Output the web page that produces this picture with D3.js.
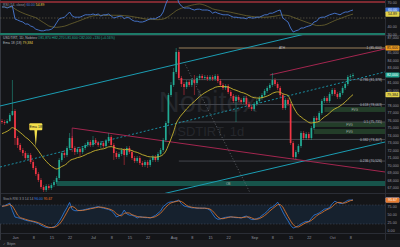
<!DOCTYPE html>
<html>
<head>
<meta charset="utf-8">
<script src="https://cdnjs.cloudflare.com/ajax/libs/d3/7.8.5/d3.min.js"></script>
<style>
  body { margin: 0; background: #141518; }
  svg { display: block; font-family: "Liberation Sans", Arial, sans-serif; }
</style>
</head>
<body>
<div id="chart"></div>
<script>

// Daily USDT/TIRT candles, 27 May - 9 Oct (one value per day)

var firstOpen = 75870;

var close = [75730,75600,75870,76670,77200,73600,72670,72000,71600,70930,
  71330,70400,69600,68800,68000,67070,66670,67200,66930,67330,
  67730,68270,70670,71600,71330,72270,73600,72270,71730,72130,
  71730,72270,72670,73070,72670,73330,72930,72670,72930,72530,
  73200,73730,72670,71600,71070,71470,72000,71330,72270,71730,
  70930,70530,70930,70270,70000,70400,70000,70670,71070,70670,
  71470,72000,73330,75600,79330,80670,82400,85070,81600,80800,
  80400,81070,80670,81330,80930,81600,81870,81600,81730,81470,
  81730,81470,81870,81200,80670,80270,80530,79730,79200,78530,
  79070,78670,78400,78930,78130,77730,77470,78130,78530,78930,
  79330,79870,80270,80670,81330,80800,80270,79330,77600,78670,
  78130,72930,71070,71730,72530,74270,73600,74130,73600,74930,
  76270,76000,76930,78530,78930,78530,79470,80000,79470,79070,
  79600,80270,80800,81730,81870,82000];

var high = [76130,76000,76130,76930,81330,77470,73870,72930,72270,71870,
  71600,71600,70670,69870,69070,68270,67330,67470,67470,67600,
  68000,68530,70930,71870,72000,72530,74270,73870,72530,72400,
  72400,72530,72930,73330,73330,73870,73600,73200,73200,73200,
  73470,74270,74000,72930,71870,71730,72270,72270,72530,72530,
  72000,71200,71200,71200,70530,70670,70670,70930,71330,71330,
  71730,72270,73600,75870,79600,81070,82930,85600,85330,81870,
  81070,81330,81330,81600,82000,81870,82130,82130,82000,82000,
  82000,82000,82130,82130,81470,80930,80800,80800,80000,79470,
  79330,79330,78930,79200,79200,78400,78000,78400,78800,79200,
  79600,80130,80530,80930,82270,81600,81070,80530,79600,78930,
  78930,78400,73200,72000,72800,74530,74530,74400,74400,75200,
  76530,76530,77200,78800,79200,79200,79730,80270,80270,79730,
  79870,80530,81070,82000,82130,82270];

var low = [75470,75330,75470,75730,76530,72670,72270,71730,71200,70670,
  70670,70130,69330,68530,67730,66800,66400,66400,66670,66670,
  67070,67470,68000,70400,70930,71070,72000,71730,71330,71470,
  71200,71470,72000,72400,72400,72400,72670,72400,72270,72270,
  72270,72930,72400,70670,70800,70800,71200,70000,71070,71470,
  70670,70270,70270,70000,69730,69730,69600,69730,70400,70400,
  70400,71200,71730,73070,75330,79070,80400,82130,81330,80400,
  79330,80130,80400,80400,79330,80670,81330,81330,81330,81200,
  81200,81200,81200,80930,80400,80000,80000,79470,78930,78270,
  75730,78400,78130,78130,77870,77470,77200,77200,77870,78270,
  78670,79070,79600,80000,80400,80530,80000,79070,77330,77330,
  77870,72670,70800,70800,71470,72270,73330,73330,73330,73330,
  74670,75730,75730,76670,78270,78270,78270,79200,79200,78800,
  78800,79330,80000,80530,81470,81600];

// RSI (14)
var rsi = [63.8,63.8,62.5,64,65,48.8,47.5,46,45,42.5,
  42.5,40,38.8,36,35,34,34,35,35,36,
  38.8,44,49,50,51,54,57.5,52.5,51,51,
  51,52.5,54,54,54,55,54,55,52.5,54,
  54,55,52.5,50,51,52,52.5,49,51,50,
  47.5,46,46,45,45,46,47.5,49,49,49,
  51,52.5,57.5,67.5,75,79,80,80,69,65,
  62.5,62.5,62.5,61,60,61,61,60,60,60,
  59,56,57.5,56,55,54,54,54,52.5,51,
  51,50.5,50,50,49,51,50,50,51,51,
  52.5,54,54,56,56,57.5,59,60,50,47.5,
  45,37.5,32.5,34,35,37.5,37.5,39,40,41,
  45,46,50,51,51,52.5,54,55,56,55,
  54,56,57.5,57.5,59,60];

// Stoch RSI %K
var stochK = [76,78,82,86,62,42,40,38,35,32,
  30,29,27,24,21,16,12,9,8,9,
  11,17,28,42,58,72,88,66,62,62,
  63,64,66,68,70,71,73,75,72,70,
  68,66,62,54,42,46,50,64,52,48,
  48,44,39,43,42,40,40,39,43,47,
  54,61,75,82,88,90,90,93,96,84,
  77,75,73,71,71,70,70,70,70,68,
  64,52,40,35,36,39,41,42,43,41,
  40,40,39,43,45,39,34,34,37,40,
  47,53,60,70,74,80,89,75,58,43,
  30,16,7,10,15,20,25,28,28,38,
  48,51,55,61,67,68,72,84,92,88,
  85,85,90,95,96,96];

var emaPeriod = 18, emaSeed = 74000;
var rsiMaPeriod = 14, stochDPeriod = 3;

// Fibonacci retracement drawn from the swing high
var fibHigh = 85600, fibLow = 65870, fibStart = "2025-08-03";
var fibRatios = [1, 0.786, 0.618, 0.5, 0.382, 0.236];

// Zones: start date, top price, bottom price, text
var zones = [
  ["2025-06-17", 67870, 67200, "OB"],
  ["2025-09-28", 77730, 77070, "FVG"],
  ["2025-09-24", 75730, 75070, "FVG"],
  ["2025-09-24", 74800, 74130, "FVG"]
];

// Trend lines: two anchors [date, price]
var trendLines = [
  { name: "channelTop", from: ["2025-05-27", 77930], to: ["2025-09-04", 86110] },
  { name: "channelMid", from: ["2025-05-27", 69800], to: ["2025-09-04", 78360] },
  { name: "channelLow", from: ["2025-07-26", 66000], to: ["2025-10-09", 72070] },
  { name: "wedgeLow",   from: ["2025-06-23", 74930], to: ["2025-10-09", 69670] },
  { name: "wedgeHigh",  from: ["2025-09-07", 82000], to: ["2025-10-09", 84510] },
  { name: "drop",       from: ["2025-08-05", 83730], to: ["2025-08-30", 66570] }
];

var priceTicks = [67000,68000,69000,70000,71000,72000,73000,74000,75000,76000,
  77000,78000,79000,80000,81000,82000,83000,84000,85000,86000,87000];
var rsiTicks = [70, 60, 50, 40, 30];
var stochTicks = [75, 50, 25, 0];
var dayTicks = [1, 8, 15, 22];

// ---------------------------------------------------------------

var W = 400, H = 247, plotR = 385;
var pane = { rsi: [0, 35], main: [35, 193], stoch: [193, 233] };

var upColor = "#22ab94", downColor = "#f23645", textColor = "#9598a1";

var parse = d3.utcParse("%Y-%m-%d");
var dates = d3.utcDay.range(parse("2025-05-27"), d3.utcDay.offset(parse("2025-10-09"), 1));
var open = [firstOpen].concat(close.slice(0, -1)); // 24/7 market: open = prior close

var candles = dates.map(function(d, i) {
  return { date: d, o: open[i], h: high[i], l: low[i], c: close[i] };
});

// indicators derived from the series
var ema = [], e = emaSeed, k = 2 / (emaPeriod + 1);
close.forEach(function(c) { e = e + k * (c - e); ema.push(e); });

function sma(arr, n) {
  return arr.map(function(v, i) {
    var s = arr.slice(Math.max(0, i - n + 1), i + 1);
    return d3.mean(s);
  });
}
var rsiMa = sma(rsi, rsiMaPeriod);
var stochD = sma(stochK, stochDPeriod);

var x = d3.scaleUtc()
    .domain([dates[0], dates[dates.length - 1]])
    .range([2, 353]);

var yMain = d3.scaleLinear().domain([66270, 87330]).range([pane.main[1], pane.main[0]]);
var yRsi = d3.scaleLinear().domain([30, 70]).range([34, 2]);
var yStoch = d3.scaleLinear().domain([0, 100]).range([230.3, 198.7]);

var svg = d3.select("#chart").append("svg")
    .attr("width", W)
    .attr("height", H);

svg.append("rect").attr("width", W).attr("height", H).attr("fill", "#141518");

var defs = svg.append("defs");
Object.keys(pane).forEach(function(p) {
  defs.append("clipPath").attr("id", "clip-" + p)
    .append("rect")
      .attr("x", 0).attr("y", pane[p][0])
      .attr("width", plotR).attr("height", pane[p][1] - pane[p][0]);
});

// pane separators and frame
[pane.main[0], pane.stoch[0], pane.stoch[1]].forEach(function(yy) {
  svg.append("line")
      .attr("x1", 0).attr("x2", W).attr("y1", yy + 0.5).attr("y2", yy + 0.5)
      .attr("stroke", "#2a2d35").attr("stroke-width", 1);
});
svg.append("line")
    .attr("x1", plotR + 0.5).attr("x2", plotR + 0.5).attr("y1", 0).attr("y2", 240)
    .attr("stroke", "#2a2d35");
svg.append("line")
    .attr("x1", 0.5).attr("x2", 0.5).attr("y1", 0).attr("y2", 240)
    .attr("stroke", "#34373f");

// ---------------- RSI pane ----------------

var gRsi = svg.append("g").attr("clip-path", "url(#clip-rsi)");

gRsi.append("line")
    .attr("x1", 0).attr("x2", plotR).attr("y1", yRsi(70)).attr("y2", yRsi(70))
    .attr("stroke", "#7d2a31").attr("stroke-width", 2);
gRsi.append("line")
    .attr("x1", 0).attr("x2", plotR).attr("y1", yRsi(50)).attr("y2", yRsi(50))
    .attr("stroke", "#6b6a55").attr("stroke-width", 0.6).attr("stroke-dasharray", "1.5,1.5");
gRsi.append("line")
    .attr("x1", 0).attr("x2", plotR).attr("y1", yRsi(30)).attr("y2", yRsi(30))
    .attr("stroke", "#1d7a68").attr("stroke-width", 2);

gRsi.append("path")
    .datum(rsiMa)
    .attr("fill", "none")
    .attr("stroke", "#8c7f35")
    .attr("stroke-width", 0.6)
    .attr("d", d3.line().x(function(d, i) { return x(dates[i]); }).y(function(d) { return yRsi(d); }));

gRsi.append("path")
    .datum(rsi)
    .attr("fill", "none")
    .attr("stroke", "#4a7ad6")
    .attr("stroke-width", 0.9)
    .attr("d", d3.line().x(function(d, i) { return x(dates[i]); }).y(function(d) { return yRsi(d); }));

// ---------------- main pane ----------------

var gMain = svg.append("g").attr("clip-path", "url(#clip-main)");

// watermark
gMain.append("text")
    .attr("x", 208).attr("y", 112)
    .attr("text-anchor", "middle")
    .attr("font-size", 29)
    .attr("fill", "#25272c")
    .text("Nobitex");
gMain.append("text")
    .attr("x", 206).attr("y", 136)
    .attr("text-anchor", "middle")
    .attr("font-size", 13)
    .attr("fill", "#25272c")
    .text("USDTIRT, 1d");

// zones
zones.forEach(function(z, i) {
  var x0 = x(parse(z[0])), y0 = yMain(z[1]), y1 = yMain(z[2]);
  gMain.append("rect")
      .attr("x", x0).attr("y", y0)
      .attr("width", plotR - x0).attr("height", y1 - y0)
      .attr("fill", i === 0 ? "#17544b" : "#233d29");
  gMain.append("text")
      .attr("x", i === 0 ? x(parse("2025-08-22")) : (x0 + plotR) / 2)
      .attr("y", (y0 + y1) / 2 + 1.2)
      .attr("text-anchor", "middle")
      .attr("font-size", 3.2)
      .attr("fill", "#a9b3ad")
      .text(z[3]);
});

// fib levels
var fibX0 = x(parse(fibStart));
fibRatios.forEach(function(r) {
  var price = fibLow + r * (fibHigh - fibLow), yy = yMain(price);
  gMain.append("line")
      .attr("x1", fibX0).attr("x2", plotR)
      .attr("y1", yy).attr("y2", yy)
      .attr("stroke", r === 1 ? "#6e5d45" : "#4a4c53")
      .attr("stroke-width", r === 1 ? 1.3 : 0.9);
  gMain.append("text")
      .attr("x", plotR - 3).attr("y", yy + 1.2)
      .attr("text-anchor", "end")
      .attr("font-size", 3.4)
      .attr("fill", "#b8bbc2")
      .text(r + " (" + d3.format(",")(Math.round(price)) + ")");
});
gMain.append("text")
    .attr("x", 282).attr("y", yMain(fibHigh) + 1.2)
    .attr("text-anchor", "middle")
    .attr("font-size", 3.2)
    .attr("fill", "#b8bbc2")
    .text("ATH");

// trend lines, extended across the pane
var lineStyle = {
  channelTop: { color: "#1b9db3", width: 1, dash: null, ext: "both" },
  channelMid: { color: "#1b9db3", width: 0.9, dash: "2,2", ext: "both" },
  channelLow: { color: "#1b9db3", width: 1, dash: null, ext: "both" },
  wedgeLow:   { color: "#a3264f", width: 1, dash: null, ext: "right" },
  wedgeHigh:  { color: "#a3264f", width: 1, dash: null, ext: "right" },
  drop:       { color: "#6f7278", width: 0.8, dash: "1,2", ext: "right" }
};

trendLines.forEach(function(t) {
  var s = lineStyle[t.name];
  var x1 = x(parse(t.from[0])), y1 = yMain(t.from[1]);
  var x2 = x(parse(t.to[0])), y2 = yMain(t.to[1]);
  var slope = (y2 - y1) / (x2 - x1);
  var xa = s.ext === "both" ? 0 : x1, xb = plotR;
  gMain.append("line")
      .attr("x1", xa).attr("y1", y1 + slope * (xa - x1))
      .attr("x2", xb).attr("y2", y1 + slope * (xb - x1))
      .attr("stroke", s.color)
      .attr("stroke-width", s.width)
      .attr("stroke-dasharray", s.dash);
});
// small bracket where the lower wedge line starts
var wl = trendLines[3];
gMain.append("line")
    .attr("x1", x(parse(wl.from[0]))).attr("x2", x(parse(wl.from[0])))
    .attr("y1", yMain(wl.from[1])).attr("y2", yMain(wl.from[1]) + 10)
    .attr("stroke", "#a3264f").attr("stroke-width", 0.8);

// candles
var cw = 1.7;
gMain.selectAll(".wick")
    .data(candles)
  .enter().append("line")
    .attr("class", "wick")
    .attr("x1", function(d) { return x(d.date); })
    .attr("x2", function(d) { return x(d.date); })
    .attr("y1", function(d) { return yMain(d.h); })
    .attr("y2", function(d) { return yMain(d.l); })
    .attr("stroke", function(d) { return d.c >= d.o ? upColor : downColor; })
    .attr("stroke-width", 0.5);

gMain.selectAll(".body")
    .data(candles)
  .enter().append("rect")
    .attr("class", "body")
    .attr("x", function(d) { return x(d.date) - cw / 2; })
    .attr("y", function(d) { return yMain(Math.max(d.o, d.c)); })
    .attr("width", cw)
    .attr("height", function(d) { return Math.max(0.8, Math.abs(yMain(d.o) - yMain(d.c))); })
    .attr("fill", function(d) { return d.c >= d.o ? upColor : downColor; });

// EMA
gMain.append("path")
    .datum(ema)
    .attr("fill", "none")
    .attr("stroke", "#c8b430")
    .attr("stroke-width", 0.9)
    .attr("d", d3.line().curve(d3.curveMonotoneX)
      .x(function(d, i) { return x(dates[i]); })
      .y(function(d) { return yMain(d); }));

// EMA callout
var ci = 13, cx = x(dates[ci]), cy = yMain(ema[ci]);
svg.append("path")
    .attr("d", "M" + (cx - 1.5) + "," + (cy - 18) + "L" + (cx + 1.5) + "," + (cy - 18) + "L" + cx + "," + (cy - 1) + "Z")
    .attr("fill", "#f3e04b");
svg.append("rect")
    .attr("x", cx - 6.5).attr("y", cy - 24)
    .attr("width", 13).attr("height", 7)
    .attr("rx", 1)
    .attr("fill", "#f3e04b");
svg.append("text")
    .attr("x", cx).attr("y", cy - 19.2)
    .attr("text-anchor", "middle")
    .attr("font-size", 3.6)
    .attr("fill", "#1a1a1a")
    .text("Ema " + emaPeriod);

// ---------------- Stoch RSI pane ----------------

var gSt = svg.append("g").attr("clip-path", "url(#clip-stoch)");

gSt.append("rect")
    .attr("x", 0).attr("width", plotR)
    .attr("y", yStoch(80)).attr("height", yStoch(20) - yStoch(80))
    .attr("fill", "#16212e");
[80, 20].forEach(function(v) {
  gSt.append("line")
      .attr("x1", 0).attr("x2", plotR).attr("y1", yStoch(v)).attr("y2", yStoch(v))
      .attr("stroke", "#4c5563").attr("stroke-width", 0.5).attr("stroke-dasharray", "1.5,1.5");
});

var stLine = d3.line().x(function(d, i) { return x(dates[i]); }).y(function(d) { return yStoch(d); });
gSt.append("path").datum(stochK)
    .attr("fill", "none").attr("stroke", "#2f7fe6").attr("stroke-width", 0.8).attr("d", stLine);
gSt.append("path").datum(stochD)
    .attr("fill", "none").attr("stroke", "#e87b2e").attr("stroke-width", 0.8).attr("d", stLine);

// ---------------- axes ----------------

function fmt2(v) { return d3.format(".2f")(v); }

var boxes = [
  { y: yRsi(rsi[rsi.length - 1]), text: fmt2(rsi[rsi.length - 1]), fill: "#3f72d8", color: "#fff" },
  { y: yRsi(rsiMa[rsiMa.length - 1]), text: fmt2(rsiMa[rsiMa.length - 1]), fill: "#e2d24a", color: "#222" },
  { y: yMain(fibHigh), text: d3.format(",")(fibHigh), fill: "#f29d1f", color: "#222" },
  { y: yMain(close[close.length - 1]), text: d3.format(",")(close[close.length - 1]), fill: "#1ea58f", color: "#fff" },
  { y: yMain(ema[ema.length - 1]), text: d3.format(",")(Math.round(ema[ema.length - 1])), fill: "#e2d24a", color: "#222" },
  { y: yStoch(stochK[stochK.length - 1]), text: fmt2(stochK[stochK.length - 1]), fill: "#2f7fe6", color: "#fff" },
  { y: yStoch(stochD[stochD.length - 1]), text: fmt2(stochD[stochD.length - 1]), fill: "#e87b2e", color: "#fff" }
];

function free(yy) {
  return boxes.every(function(b) { return Math.abs(b.y - yy) > 4.5; });
}

function rightAxis(scale, values, format, lo, hi) {
  svg.append("g")
      .attr("transform", "translate(" + plotR + ",0)")
      .call(d3.axisRight(scale)
        .tickValues(values.filter(function(v) {
          var yy = scale(v); return yy >= lo && yy <= hi && free(yy);
        }))
        .tickSize(0).tickPadding(2.5).tickFormat(format))
      .call(function(g) { g.select(".domain").remove(); })
      .selectAll("text")
      .attr("font-size", 3.7)
      .attr("fill", textColor);
}
rightAxis(yRsi, rsiTicks, fmt2, 1, 34);
rightAxis(yMain, priceTicks, d3.format(","), 37, 191);
rightAxis(yStoch, stochTicks, fmt2, 195, 232);

boxes.forEach(function(b) {
  svg.append("rect")
      .attr("x", plotR + 0.5).attr("y", b.y - 2.6)
      .attr("width", 14).attr("height", 5.2)
      .attr("rx", 0.8)
      .attr("fill", b.fill);
  svg.append("text")
      .attr("x", plotR + 7.5).attr("y", b.y + 1.3)
      .attr("text-anchor", "middle")
      .attr("font-size", 3.6)
      .attr("fill", b.color)
      .text(b.text);
});

// time axis
var timeTicks = dates.filter(function(d) { return dayTicks.indexOf(d.getUTCDate()) >= 0; });
svg.append("g")
    .attr("transform", "translate(0," + pane.stoch[1] + ")")
    .call(d3.axisBottom(x)
      .tickValues(timeTicks)
      .tickSize(0).tickPadding(3)
      .tickFormat(function(d) { return d.getUTCDate() === 1 ? d3.utcFormat("%b")(d) : d.getUTCDate(); }))
    .call(function(g) { g.select(".domain").remove(); })
    .selectAll("text")
    .attr("font-size", 3.8)
    .attr("fill", textColor);

// ---------------- legends ----------------

function legend(yy, parts) {
  var t = svg.append("text").attr("x", 3).attr("y", yy).attr("font-size", 3.4);
  parts.forEach(function(p) {
    t.append("tspan").attr("fill", p[1]).text(p[0]);
  });
}

var last = candles[candles.length - 1];
var chg = last.c - last.o;
legend(6, [["RSI (14, close)  ", textColor], [fmt2(rsi[rsi.length - 1]) + " ", "#4a7ad6"],
  [fmt2(rsiMa[rsiMa.length - 1]), "#e2d24a"]]);
legend(39, [["USDTIRT, 1D, Nobitex  ", "#b2b5be"],
  ["O" + d3.format(",")(last.o) + " H" + d3.format(",")(last.h) + " L" + d3.format(",")(last.l) +
   " C" + d3.format(",")(last.c) + " +" + chg + " (+" + d3.format(".2f")(chg / last.o * 100) + "%)", upColor]]);
legend(44, [["Ema " + emaPeriod + " (" + emaPeriod + ")  ", "#b2b5be"],
  [d3.format(",")(Math.round(ema[ema.length - 1])), "#e2d24a"]]);
legend(200, [["Stoch RSI 3 3 14 14  ", textColor], [fmt2(stochK[stochK.length - 1]) + " ", "#2f7fe6"],
  [fmt2(stochD[stochD.length - 1]), "#e87b2e"]]);

// bottom status bar
svg.append("rect")
    .attr("x", 0).attr("y", 240).attr("width", W).attr("height", 7)
    .attr("fill", "#1d1e22");
svg.append("text")
    .attr("x", 3).attr("y", 245)
    .attr("font-size", 3.4)
    .attr("fill", textColor)
    .text("\u2713 Bitpin");

</script>
</body>
</html>
